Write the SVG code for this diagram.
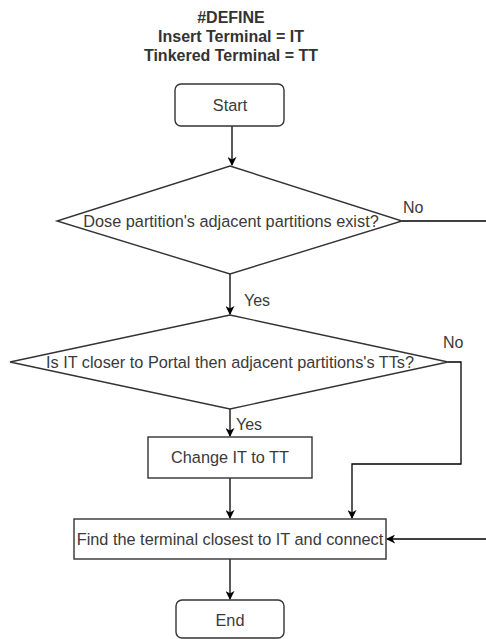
<svg xmlns="http://www.w3.org/2000/svg" width="486" height="639" viewBox="0 0 486 639">
<defs>
<marker id="arr" viewBox="0 0 10 10" refX="9" refY="5" markerWidth="9" markerHeight="9" markerUnits="userSpaceOnUse" orient="auto">
<path d="M0,0 L10,5 L0,10 L3,5 Z" fill="#000"/>
</marker>
<style>
.shape{fill:#fff;stroke:#333;stroke-width:1.4}
.t{font-family:"Liberation Sans",Arial,sans-serif;font-size:16.3px;fill:#3a3a3a;text-anchor:middle;dominant-baseline:central}
.title{font-family:"Liberation Sans",Arial,sans-serif;font-size:16px;font-weight:bold;fill:#333;text-anchor:middle}
.lbl{font-family:"Liberation Sans",Arial,sans-serif;font-size:16px;fill:#3a3a3a}
.c{fill:none;stroke:#000;stroke-width:1.3}
</style>
</defs>
<rect width="486" height="639" fill="#fff"/>
<g id="title">
<text class="title" x="231" y="23">#DEFINE</text>
<text class="title" x="231" y="42">Insert Terminal = IT</text>
<text class="title" x="231" y="61">Tinkered Terminal = TT</text>
</g>
<g id="connectors">
<path class="c" d="M232,126 V165" marker-end="url(#arr)"/>
<path class="c" d="M402,221 H486"/>
<path class="c" d="M230,274 V314" marker-end="url(#arr)"/>
<path class="c" d="M448,362 H461 V464 H352 V518" marker-end="url(#arr)"/>
<path class="c" d="M230,409 V436" marker-end="url(#arr)"/>
<path class="c" d="M230,478 V518" marker-end="url(#arr)"/>
<path class="c" d="M486,539 H387" marker-end="url(#arr)"/>
<path class="c" d="M230,559 V599" marker-end="url(#arr)"/>
<text class="lbl" x="403" y="213">No</text>
<text class="lbl" x="244" y="306">Yes</text>
<text class="lbl" x="443" y="348">No</text>
<text class="lbl" x="236" y="430">Yes</text>
</g>
<g id="start">
<rect class="shape" x="175" y="84" width="109" height="42" rx="6"/>
<text class="t" x="230" y="105">Start</text>
</g>
<g id="decision1">
<path class="shape" d="M230,166 L402,221 L230,274 L57,221 Z"/>
<text class="t" x="231" y="221">Dose partition's adjacent partitions exist?</text>
</g>
<g id="decision2">
<path class="shape" d="M230,315 L448,362 L230,409 L10,362 Z"/>
<text class="t" x="230" y="362">Is IT closer to Portal then adjacent partitions's TTs?</text>
</g>
<g id="change">
<rect class="shape" x="148" y="437" width="164" height="41"/>
<text class="t" x="230" y="457">Change IT to TT</text>
</g>
<g id="find">
<rect class="shape" x="74" y="519" width="312" height="40"/>
<text class="t" x="230" y="539">Find the terminal closest to IT and connect</text>
</g>
<g id="end">
<rect class="shape" x="176" y="600" width="108" height="38" rx="6"/>
<text class="t" x="230" y="620">End</text>
</g>
</svg>
